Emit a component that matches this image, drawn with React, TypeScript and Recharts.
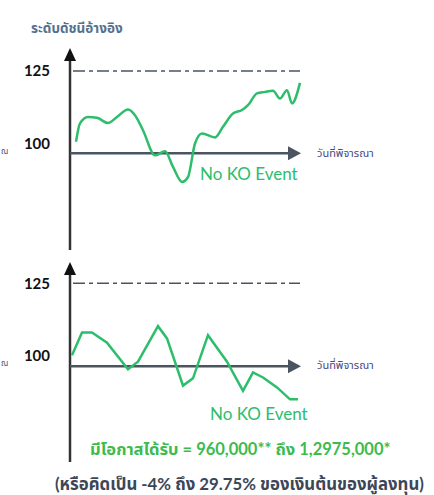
import { LineChart, Line, XAxis, YAxis, ReferenceLine } from "recharts";

const topDays = [6, 10, 18, 27, 38, 47, 58, 65, 73, 85, 95, 103, 112, 118, 125, 132, 145, 153, 163, 172, 178, 187, 195, 203, 210, 217, 222, 230];
const topLevels = [100.5, 106.9, 109.1, 108.8, 107, 109.1, 111.7, 109.7, 104.5, 95.8, 97.2, 91.8, 86.6, 88.3, 99.9, 103.4, 102, 105.7, 110.3, 111.5, 113.2, 117.3, 117.8, 118.2, 115.5, 118.4, 113.8, 120.9];

const bottomDays = [2, 12, 22, 37, 58, 68, 88, 97, 113, 123, 138, 157, 173, 183, 193, 207, 220, 228];
const bottomLevels = [100.3, 108.1, 108.1, 104.6, 95.5, 98.1, 110.3, 106.1, 89.9, 92.4, 107.2, 98.1, 88.1, 94.4, 92.7, 89.3, 85.2, 85.2];

const yTicks = [100, 125];
const koLevel = 125;
const axisLevel = 96.5;
const lastDay = 231;

const topData = topDays.map((day, i) => ({ day, level: topLevels[i] }));
const bottomData = bottomDays.map((day, i) => ({ day, level: bottomLevels[i] }));

const GREEN = "#2dbd6b";
const SLATE = "#4a5560";
const FONT = "Lato, 'Noto Sans Thai', 'Noto Sans', sans-serif";

function UpArrow(p: any) {
  const x = p.x1;
  const top = Math.min(p.y1, p.y2);
  const bottom = Math.max(p.y1, p.y2);
  return (
    <g>
      <line x1={x} y1={top + 8} x2={x} y2={bottom} stroke="#333" strokeWidth={2.5} />
      <polygon points={`${x},${top} ${x - 6},${top + 13} ${x + 6},${top + 13}`} fill="#111" />
    </g>
  );
}

function RightArrow(p: any) {
  const y = p.y1;
  const left = Math.min(p.x1, p.x2);
  const right = Math.max(p.x1, p.x2);
  return (
    <g>
      <line x1={left} y1={y} x2={right - 8} y2={y} stroke={SLATE} strokeWidth={2.5} />
      <polygon points={`${right},${y} ${right - 13},${y - 7} ${right - 13},${y + 7}`} fill={SLATE} />
    </g>
  );
}

function Panel({ data, lo, hi, height, curve }: { data: { day: number; level: number }[]; lo: number; hi: number; height: number; curve: "linear" | "monotone" }) {
  return (
    <LineChart width={434} height={height} data={data} margin={{ top: 0, right: 133, bottom: 0, left: 0 }}>
      <XAxis type="number" dataKey="day" domain={[0, lastDay]} hide />
      <YAxis
        domain={[lo, hi]}
        ticks={yTicks}
        width={70}
        axisLine={false}
        tickLine={false}
        tickMargin={14}
        tick={{ fill: "#111", fontSize: 15, fontWeight: 700, fontFamily: FONT }}
      />
      <ReferenceLine
        segment={[{ x: 3, y: koLevel }, { x: 230, y: koLevel }]}
        stroke={SLATE}
        strokeWidth={1.5}
        strokeDasharray="12 4 4 4"
      />
      <ReferenceLine segment={[{ x: 0, y: hi }, { x: 0, y: lo }]} shape={UpArrow} />
      <ReferenceLine segment={[{ x: 0, y: axisLevel }, { x: lastDay, y: axisLevel }]} shape={RightArrow} />
      <Line
        type={curve}
        dataKey="level"
        stroke={GREEN}
        strokeWidth={2.5}
        dot={false}
        isAnimationActive={false}
      />
    </LineChart>
  );
}

const textBase: React.CSSProperties = {
  position: "absolute",
  fontFamily: FONT,
  whiteSpace: "nowrap",
  lineHeight: "20px",
  height: 20,
};

export default function App() {
  return (
    <div style={{ position: "absolute", left: 0, top: 0, width: 434, height: 495, background: "#fff", overflow: "hidden" }}>
      <div style={{ ...textBase, left: 31, top: 18, fontSize: 13.5, fontWeight: 700, color: "#56708f" }}>ระดับดัชนีอ้างอิง</div>

      <div style={{ position: "absolute", left: 0, top: 48 }}>
        <Panel data={topData} lo={63} hi={133} height={202} curve="monotone" />
      </div>
      <div style={{ position: "absolute", left: 0, top: 262 }}>
        <Panel data={bottomData} lo={63.7} hi={132.3} height={200} curve="linear" />
      </div>

      <div style={{ ...textBase, left: 1, top: 141, fontSize: 8, color: "#4a4a80" }}>ณ</div>
      <div style={{ ...textBase, left: 1, top: 353, fontSize: 8, color: "#4a4a80" }}>ณ</div>
      <div style={{ ...textBase, left: 317, top: 143, fontSize: 11, color: "#4a4a80" }}>วันที่พิจารณา</div>
      <div style={{ ...textBase, left: 317, top: 355, fontSize: 11, color: "#4a4a80" }}>วันที่พิจารณา</div>

      <div style={{ ...textBase, left: 200, top: 164, fontSize: 17, color: GREEN }}>No KO Event</div>
      <div style={{ ...textBase, left: 210, top: 404, fontSize: 17, color: GREEN }}>No KO Event</div>

      <div style={{ ...textBase, left: 90, top: 439, fontSize: 16.5, fontWeight: 700, color: "#3dbb4c" }}>
        มีโอกาสได้รับ = 960,000** ถึง 1,2975,000*
      </div>
      <div style={{ ...textBase, left: 55, top: 474, fontSize: 16.8, fontWeight: 700, color: "#3d4657" }}>
        (หรือคิดเป็น -4% ถึง 29.75% ของเงินต้นของผู้ลงทุน)
      </div>
    </div>
  );
}
